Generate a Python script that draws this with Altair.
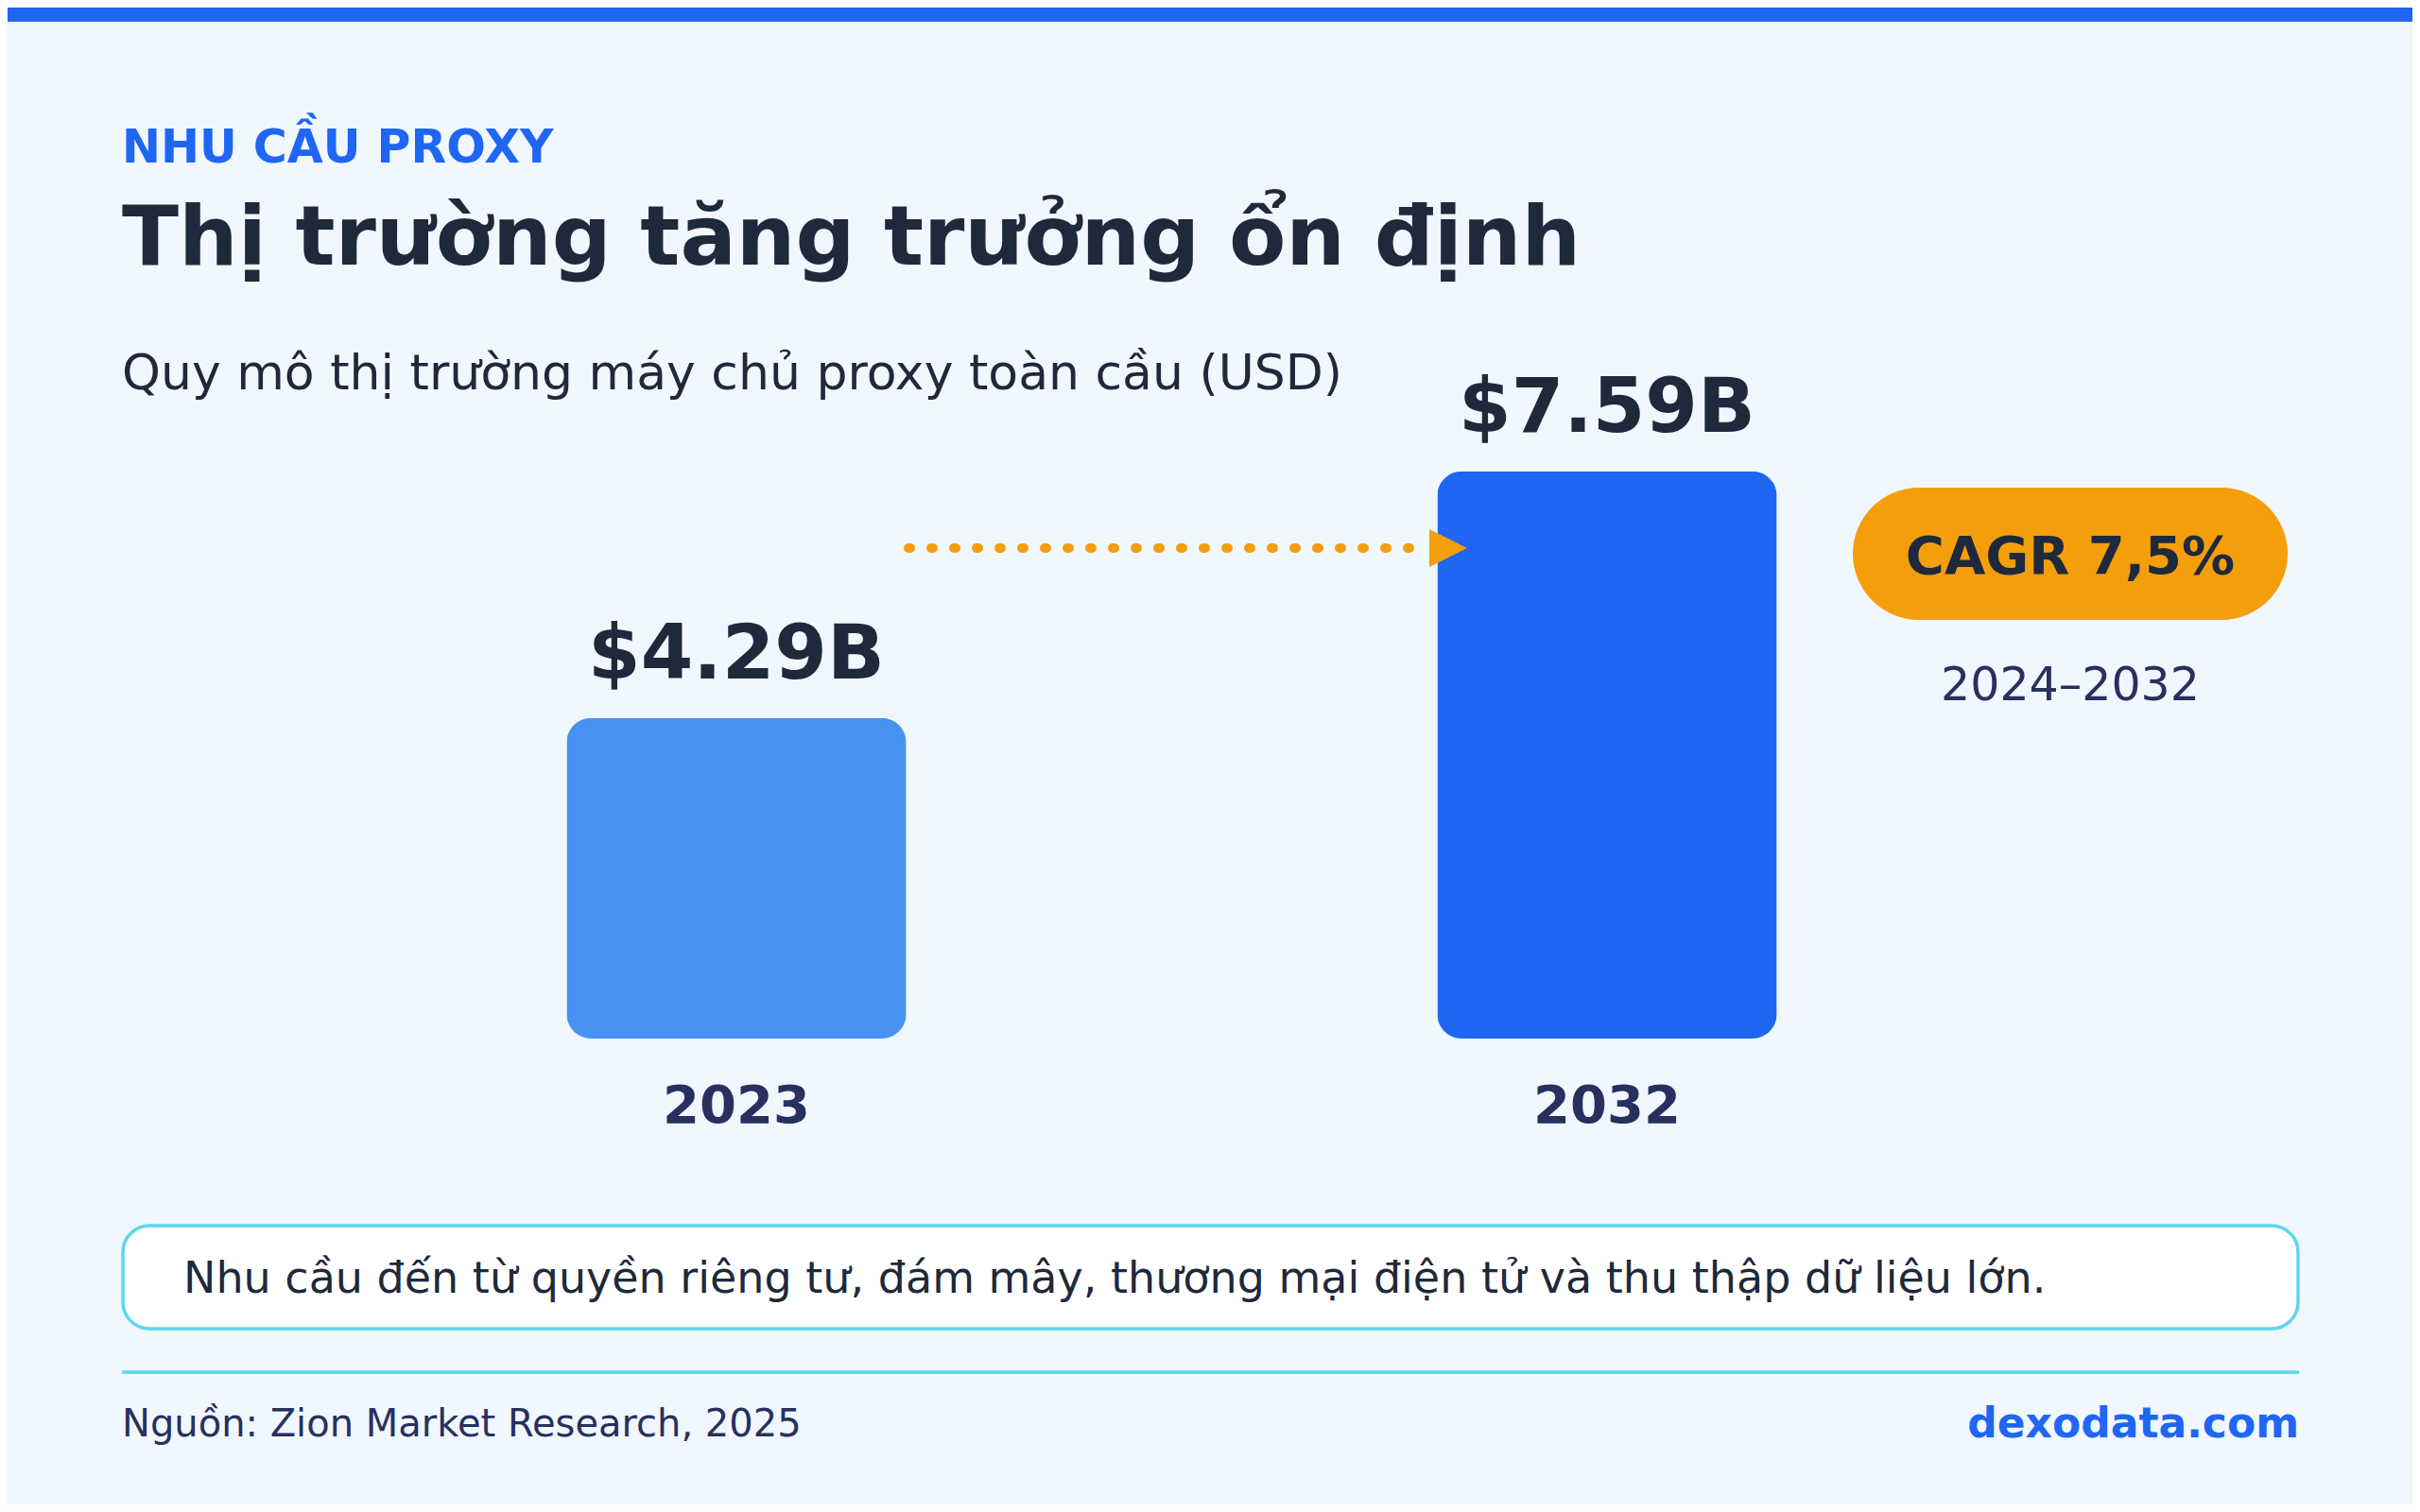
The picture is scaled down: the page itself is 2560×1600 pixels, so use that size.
import altair as alt
import pandas as pd

# data
years = ["2023", "2032"]
market_size = [4.29, 7.59]
value_labels = ["$4.29B", "$7.59B"]
bar_colors = ["#4892F2", "#1F66F2"]

kicker = "NHU CẦU PROXY"
title = "Thị trường tăng trưởng ổn định"
subtitle = "Quy mô thị trường máy chủ proxy toàn cầu (USD)"
cagr_text = "CAGR 7,5%"
cagr_period = "2024–2032"
note = "Nhu cầu đến từ quyền riêng tư, đám mây, thương mại điện tử và thu thập dữ liệu lớn."
source = "Nguồn: Zion Market Research, 2025"
brand = "dexodata.com"

BLUE = "#1F66F2"
ORANGE = "#F59E0B"
DARK = "#1E293B"
NAVY = "#27305E"
CYAN = "#5DD6EE"
BG = "#F0F7FF"

# whole page is 2560x1600 with an 8px margin
W, H = 2544, 1584

df = pd.DataFrame({"year": years, "value": market_size, "label": value_labels})

x_scale = alt.Scale(domain=years, range=[310.5, 2152.5], paddingInner=0.61, paddingOuter=0.305)
y_scale = alt.Scale(domain=[0, 10], range=[1091, 300])


def one_row():
    return alt.Chart(pd.DataFrame({"d": [0]}))


def label(text, x, y, size, color, weight="normal", align="left"):
    return (
        alt.Chart(pd.DataFrame({"t": [text]}))
        .mark_text(align=align, baseline="alphabetic", fontSize=size,
                   fontWeight=weight, color=color)
        .encode(x=alt.value(x), y=alt.value(y), text="t:N")
    )


bars = alt.Chart(df).mark_bar(cornerRadius=26).encode(
    x=alt.X("year:N", scale=x_scale, axis=None),
    y=alt.Y("value:Q", scale=y_scale, axis=None),
    color=alt.Color("year:N", scale=alt.Scale(domain=years, range=bar_colors), legend=None),
)

values = alt.Chart(df).mark_text(
    dy=-42, baseline="alphabetic", fontSize=80, fontWeight="bold", color=DARK
).encode(
    x=alt.X("year:N", scale=x_scale, axis=None),
    y=alt.Y("value:Q", scale=y_scale, axis=None),
    text="label:N",
)

year_labels = alt.Chart(df).mark_text(
    baseline="alphabetic", fontSize=56, fontWeight="bold", color=NAVY
).encode(
    x=alt.X("year:N", scale=x_scale, axis=None),
    y=alt.value(1180),
    text="year:N",
)

top_bar = one_row().mark_rect(color=BLUE).encode(
    x=alt.value(0), x2=alt.value(W), y=alt.value(0), y2=alt.value(15)
)

arrow_line = one_row().mark_rule(
    color=ORANGE, strokeWidth=10, strokeCap="round", strokeDash=[2, 22]
).encode(x=alt.value(953), x2=alt.value(1504), y=alt.value(572))

arrow_head = one_row().mark_point(
    shape="M-1,-1L1,0L-1,1Z", filled=True, size=1600, color=ORANGE, opacity=1
).encode(x=alt.value(1524), y=alt.value(572))

pill = one_row().mark_rect(color=ORANGE, cornerRadius=70).encode(
    x=alt.value(1952), x2=alt.value(2412), y=alt.value(508), y2=alt.value(648)
)

note_box = one_row().mark_rect(
    fill="white", stroke=CYAN, strokeWidth=3.5, cornerRadius=28
).encode(x=alt.value(122), x2=alt.value(2423), y=alt.value(1289), y2=alt.value(1398))

divider = one_row().mark_rule(color=CYAN, strokeWidth=3.5).encode(
    x=alt.value(121), x2=alt.value(2424), y=alt.value(1444)
)

chart = alt.layer(
    top_bar,
    label(kicker, 121, 164, 49, BLUE, "bold"),
    label(title, 121, 272, 88, DARK, "bold"),
    label(subtitle, 121, 404, 52, DARK),
    bars,
    values,
    year_labels,
    arrow_line,
    arrow_head,
    pill,
    label(cagr_text, 2182, 599, 56, DARK, "bold", "center"),
    label(cagr_period, 2182, 733, 49, NAVY, "normal", "center"),
    note_box,
    label(note, 186, 1360, 46, DARK),
    divider,
    label(source, 121, 1512, 40, NAVY),
    label(brand, 2424, 1513, 44, BLUE, "bold", "right"),
).properties(
    width=W, height=H, padding=0, background=BG,
    autosize=alt.AutoSizeParams(type="none"),
).configure_view(stroke=None).configure_text(font="DejaVu Sans")

chart.save("out.html", embed_options={"renderer": "svg", "actions": False})
